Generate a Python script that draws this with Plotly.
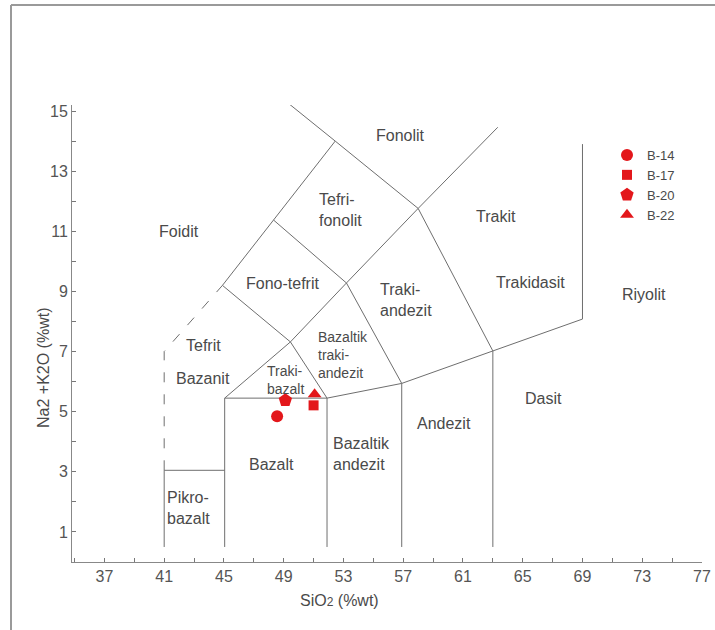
import plotly.graph_objects as go

# ---- sample data (SiO2, Na2O+K2O) ----
SAMPLES = ["B-14", "B-17", "B-20", "B-22"]
SAMPLE_SIO2 = [48.56, 51.0, 49.11, 51.07]
SAMPLE_ALK = [4.85, 5.21, 5.38, 5.58]
SAMPLE_SYMBOLS = ["circle", "square", "pentagon", "triangle-up"]
SAMPLE_SIZES = [12, 10, 14, 12]

# ---- TAS field boundaries (solid), segments separated by None ----
BOUND_X = [41, 41, 45.05, None,
           45.05, 45.05, 51.9, 51.9, None,
           45.05, 49.45, 51.9, None,
           44.9, 49.45, 53.2, 56.9, 63.0, 69.0, 69.0, None,
           44.9, 48.33, 52.45, 49.33, None,
           48.33, 53.2, 58.0, 52.45, None,
           58.0, 63.33, None,
           58.0, 63.0, 63.0, None,
           51.9, 56.9, 56.9]
BOUND_Y = [0.5, 3.05, 3.05, None,
           0.5, 5.45, 5.45, 0.5, None,
           5.45, 7.32, 5.45, None,
           9.2, 7.32, 9.28, 5.94, 7.02, 8.08, 13.9, None,
           9.2, 11.37, 14.0, 15.25, None,
           11.37, 9.28, 11.76, 14.0, None,
           11.76, 14.46, None,
           11.76, 7.02, 0.5, None,
           5.45, 5.94, 0.5]
# dashed part
DASH_X = [41, 41, 44.9]
DASH_Y = [3.05, 7.0, 9.2]

# ---- field names ----
FIELD_NAMES = ["Fonolit", "Tefri-<br>fonolit", "Foidit", "Trakit", "Fono-tefrit",
               "Traki-<br>andezit", "Trakidasit", "Riyolit", "Tefrit", "Bazanit",
               "Bazaltik<br>traki-<br>andezit", "Traki-<br>bazalt", "Dasit",
               "Andezit", "Bazaltik<br>andezit", "Bazalt", "Pikro-<br>bazalt"]
FIELD_X = [56.8, 52.8, 42.0, 63.2, 48.9, 57.2, 65.5, 73.1, 43.6, 43.6,
           53.0, 49.1, 66.4, 59.7, 54.2, 48.2, 42.6]
FIELD_Y = [14.17, 11.7, 11.0, 11.5, 9.25, 8.7, 9.3, 8.9, 7.2, 6.1,
           6.9, 6.05, 5.45, 4.6, 3.6, 3.25, 1.8]
FIELD_SIZES = [16, 16, 16, 16, 16, 16, 16, 16, 16, 16, 14, 14, 16, 16, 16, 16, 16]

X_TICKS = list(range(37, 78, 4))
Y_TICKS = list(range(1, 16, 2))

W, H = 715, 630
ML, MR, MT, MB = 72, 13, 105, 68
PW, PH = W - ML - MR, H - MT - MB

def px2paper_x(px):
    return (px - ML) / PW

def px2paper_y(py):
    return (H - MB - py) / PH

LINE_COL = "#6e6e6e"
TEXT_COL = "#4a4a4a"
RED = "#e3171b"
FONT = "Liberation Sans, Arial, sans-serif"

fig = go.Figure()
fig.add_trace(go.Scatter(x=BOUND_X, y=BOUND_Y, mode="lines",
                         line=dict(color=LINE_COL, width=1),
                         showlegend=False, hoverinfo="skip"))
fig.add_trace(go.Scatter(x=DASH_X, y=DASH_Y, mode="lines",
                         line=dict(color=LINE_COL, width=1, dash="10px,12px"),
                         showlegend=False, hoverinfo="skip"))

for name, sx, sy, sym, sz in zip(SAMPLES, SAMPLE_SIO2, SAMPLE_ALK, SAMPLE_SYMBOLS, SAMPLE_SIZES):
    fig.add_trace(go.Scatter(x=[sx], y=[sy], mode="markers", name=name,
                             marker=dict(symbol=sym, size=sz, color=RED,
                                         line=dict(width=0))))

for t, fx, fy, fs in zip(FIELD_NAMES, FIELD_X, FIELD_Y, FIELD_SIZES):
    fig.add_annotation(x=fx, y=fy, text=t, showarrow=False, align="left",
                       xanchor="center", yanchor="middle",
                       font=dict(size=fs, color=TEXT_COL, family=FONT))

fig.add_annotation(xref="paper", yref="paper", x=px2paper_x(43), y=px2paper_y(368),
                   xanchor="center", yanchor="middle",
                   text="Na2 +K2O (%wt)", textangle=-90, showarrow=False,
                   font=dict(size=16, color=TEXT_COL, family=FONT))
fig.add_annotation(xref="paper", yref="paper", x=px2paper_x(339), y=px2paper_y(600),
                   xanchor="center", yanchor="middle",
                   text="SiO<span style='font-size:12px'>2</span> (%wt)", showarrow=False,
                   font=dict(size=16, color=TEXT_COL, family=FONT))

# outer frame (left and top edges)
fig.add_shape(type="line", xref="paper", yref="paper",
              x0=px2paper_x(11), x1=px2paper_x(11), y0=px2paper_y(5), y1=px2paper_y(H + 5),
              line=dict(color="#9a9a9a", width=2))
fig.add_shape(type="line", xref="paper", yref="paper",
              x0=px2paper_x(11), x1=px2paper_x(W + 5), y0=px2paper_y(5), y1=px2paper_y(5),
              line=dict(color="#9a9a9a", width=2))

axis_font = dict(size=16, color="#555555", family=FONT)
fig.update_xaxes(range=[34.83, 77], tickmode="array", tickvals=X_TICKS,
                 ticktext=[str(v) for v in X_TICKS],
                 ticks="inside", ticklen=4, tickcolor="#777777",
                 minor=dict(dtick=2, tick0=37, ticks="inside", ticklen=4, tickcolor="#777777"),
                 showline=True, linecolor="#888888", linewidth=1, showgrid=False,
                 zeroline=False, tickfont=axis_font, automargin=False)
fig.update_yaxes(range=[0, 15.2], tickmode="array", tickvals=Y_TICKS,
                 ticktext=[str(v) for v in Y_TICKS],
                 ticks="inside", ticklen=4, tickcolor="#777777",
                 minor=dict(dtick=1, tick0=0, ticks="inside", ticklen=4, tickcolor="#777777"),
                 showline=True, linecolor="#888888", linewidth=1, showgrid=False,
                 zeroline=False, tickfont=axis_font, automargin=False)

fig.update_layout(width=W, height=H, margin=dict(l=ML, r=MR, t=MT, b=MB),
                  plot_bgcolor="white", paper_bgcolor="white",
                  legend=dict(x=px2paper_x(607), y=px2paper_y(140), xanchor="left", yanchor="top",
                              font=dict(size=13, color=TEXT_COL, family=FONT),
                              bgcolor="rgba(0,0,0,0)", tracegroupgap=0),
                  showlegend=True)

fig.write_html("out.html")
